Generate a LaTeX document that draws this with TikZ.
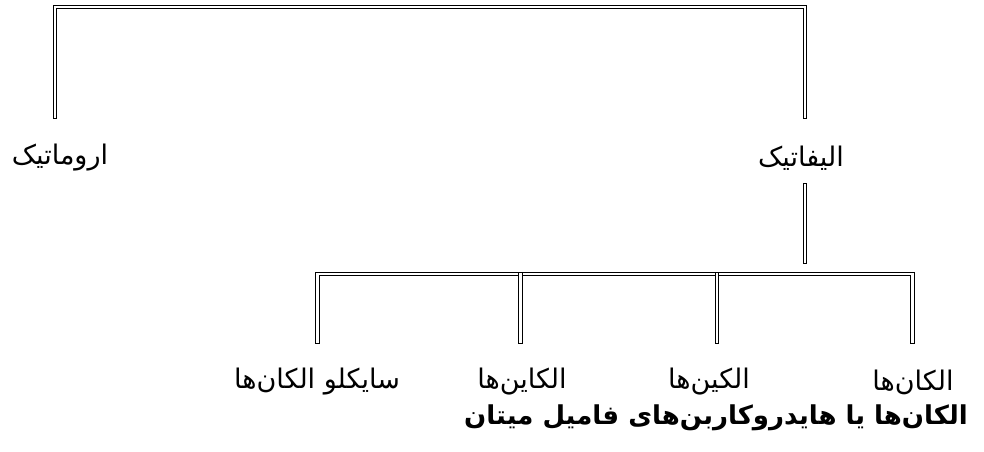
\documentclass[tikz,border=0pt]{standalone}
\usepackage{fontspec}
\usepackage{tikz}
\TeXXeTstate=1
\newfontfamily\arabicfont[Script=Arabic]{DejaVu Sans}
\tikzset{
  dbl/.style={double, double distance=2.2pt, line width=1.2pt, line cap=rect},
  lbl/.style={inner sep=0pt, font=\arabicfont\fontsize{27}{32}\selectfont},
  ttl/.style={inner sep=0pt, font=\arabicfont\bfseries\fontsize{26}{31}\selectfont}
}

\begin{document}
\begin{tikzpicture}[x=1pt,y=-1pt]
\useasboundingbox (0,0) rectangle (984,451);
% top level
\node[lbl] (arom) at (60,158) {\beginR اروماتیک\endR};
\node[lbl] (alif) at (801,158) {\beginR الیفاتیک\endR};
\coordinate (ta) at (55,117);
\coordinate (tb) at (805,117);
\draw[dbl] (ta) -- (ta |- 0,7) -- (tb |- 0,7) -- (tb);
% second level
\node[lbl] (cyc) at (317,382) {\beginR سایکلو الکان‌ها\endR};
\node[lbl] (alkyn) at (522,382) {\beginR الکاین‌ها\endR};
\node[lbl] (alken) at (709,382) {\beginR الکین‌ها\endR};
\node[lbl] (alkan) at (913,382) {\beginR الکان‌ها\endR};
\coordinate (ma) at (805,185);
\coordinate (mb) at (805,262);
\draw[dbl] (ma) -- (mb);
\coordinate (b1) at (317.5,342);
\coordinate (b2) at (520.5,342);
\coordinate (b3) at (717,342);
\coordinate (b4) at (912.5,342);
\draw[dbl] (b1) -- (b1 |- 0,274) -- (b4 |- 0,274) -- (b4);
\draw[dbl] (b2) -- (b2 |- 0,274);
\draw[dbl] (b3) -- (b3 |- 0,274);
% title
\node[ttl] (title) at (716,418) {\beginR الکان‌ها یا هایدروکاربن‌های فامیل میتان\endR};
\end{tikzpicture}
\end{document}
